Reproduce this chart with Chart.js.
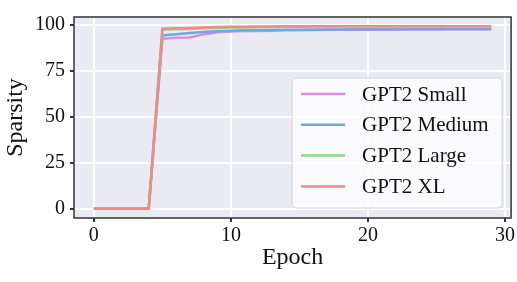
<!DOCTYPE html>
<html>
<head>
<meta charset="utf-8">
<script src="https://cdn.jsdelivr.net/npm/chart.js@4/dist/chart.umd.min.js"></script>
<style>
  html, body { margin: 0; padding: 0; background: #ffffff; }
  #wrap { width: 517px; height: 282px; }
</style>
</head>
<body>
<div id="wrap"><canvas id="sparsityChart" width="517" height="282"></canvas></div>
<script>
// Epochs on the x axis
const epochs = [0, 1, 2, 3, 4, 5, 6, 7, 8, 9, 10, 11, 12, 13, 14, 15, 16, 17, 18, 19, 20, 21, 22, 23, 24, 25, 26, 27, 28, 29];

// Sparsity per model
const gpt2Small = [0, 0, 0, 0, 0, 92.6, 93.2, 93.3, 95.0, 96.2, 96.6, 96.8, 96.9, 97.0, 97.2, 97.3, 97.4, 97.5, 97.5, 97.6, 97.6, 97.6, 97.7, 97.7, 97.7, 97.7, 97.8, 97.8, 97.8, 97.8];
const gpt2Medium = [0, 0, 0, 0, 0, 94.4, 95.1, 95.7, 96.3, 96.7, 97.0, 97.2, 97.3, 97.4, 97.5, 97.6, 97.6, 97.7, 97.7, 97.8, 97.8, 97.8, 97.8, 97.9, 97.9, 97.9, 97.9, 97.9, 97.9, 97.9];
const gpt2Large = [0, 0, 0, 0, 0, 97.5, 97.8, 98.0, 98.3, 98.5, 98.7, 98.8, 98.9, 99.0, 99.1, 99.2, 99.3, 99.3, 99.4, 99.4, 99.4, 99.4, 99.4, 99.4, 99.4, 99.4, 99.4, 99.4, 99.4, 99.4];
const gpt2XL = [0, 0, 0, 0, 0, 98.1, 98.3, 98.5, 98.8, 99.0, 99.1, 99.2, 99.3, 99.3, 99.4, 99.4, 99.5, 99.5, 99.5, 99.5, 99.5, 99.5, 99.5, 99.5, 99.5, 99.5, 99.5, 99.5, 99.5, 99.5];

const seriesNames = ["GPT2 Small", "GPT2 Medium", "GPT2 Large", "GPT2 XL"];
const seriesColors = ["#d88ddf", "#6fa7e6", "#8ed78a", "#f08a87"];

const xTicks = [0, 10, 20, 30];
const yTicks = [0, 25, 50, 75, 100];

const FONT = "'Liberation Serif', 'Times New Roman', serif";

function toPoints(values) {
    return values.map((v, i) => ({ x: epochs[i], y: v }));
}

// Background of the plot area, seaborn style
const backgroundPlugin = {
    id: "plotBackground",
    beforeDraw(chart) {
        const { ctx, chartArea: a } = chart;
        ctx.save();
        ctx.fillStyle = "#eaeaf2";
        ctx.fillRect(a.left, a.top, a.right - a.left, a.bottom - a.top);
        ctx.restore();
    }
};

// Frame and an in-plot legend, drawn on top
const framePlugin = {
    id: "frameAndLegend",
    afterDraw(chart) {
        const { ctx, chartArea: a } = chart;
        ctx.save();
        ctx.strokeStyle = "#333333";
        ctx.lineWidth = 1.5;
        ctx.strokeRect(a.left, a.top, a.right - a.left, a.bottom - a.top);

        // legend box
        const boxW = 210, boxH = 130;
        const bx = a.right - 9 - boxW;
        const by = a.bottom - 10 - boxH;
        const r = 4;
        ctx.beginPath();
        ctx.moveTo(bx + r, by);
        ctx.arcTo(bx + boxW, by, bx + boxW, by + boxH, r);
        ctx.arcTo(bx + boxW, by + boxH, bx, by + boxH, r);
        ctx.arcTo(bx, by + boxH, bx, by, r);
        ctx.arcTo(bx, by, bx + boxW, by, r);
        ctx.closePath();
        ctx.fillStyle = "rgba(255,255,255,0.8)";
        ctx.fill();
        ctx.strokeStyle = "#d6d6dc";
        ctx.lineWidth = 1;
        ctx.stroke();

        ctx.font = "21px " + FONT;
        ctx.textBaseline = "middle";
        ctx.textAlign = "left";
        chart.data.datasets.forEach((ds, i) => {
            const rowY = by + 16 + i * 30.8;
            ctx.strokeStyle = ds.borderColor;
            ctx.lineWidth = 2.5;
            ctx.beginPath();
            ctx.moveTo(bx + 9, rowY);
            ctx.lineTo(bx + 53, rowY);
            ctx.stroke();
            ctx.fillStyle = "#111111";
            ctx.fillText(ds.label, bx + 70, rowY + 1);
        });
        ctx.restore();
    }
};

// later series drawn on top (XL topmost), so give them a lower order
const datasets = [gpt2Small, gpt2Medium, gpt2Large, gpt2XL].map((values, i) => ({
    label: seriesNames[i],
    data: toPoints(values),
    borderColor: seriesColors[i],
    backgroundColor: seriesColors[i],
    borderWidth: 2.5,
    pointRadius: 0,
    tension: 0,
    fill: false,
    order: seriesNames.length - i
}));

new Chart(document.getElementById("sparsityChart"), {
    type: "line",
    data: { datasets: datasets },
    options: {
        responsive: false,
        animation: false,
        layout: { padding: { top: 1, right: 5, left: 0, bottom: 0 } },
        scales: {
            x: {
                type: "linear",
                min: -1.45,
                max: 30.45,
                afterBuildTicks: scale => { scale.ticks = xTicks.map(v => ({ value: v })); },
                afterFit: scale => { scale.height = 64; },
                grid: { color: "#ffffff", lineWidth: 2, tickColor: "#333333", tickLength: 4, drawTicks: true },
                border: { display: false },
                ticks: { color: "#111111", font: { family: FONT, size: 20 }, padding: 2, maxRotation: 0 },
                title: { display: true, text: "Epoch", color: "#111111", font: { family: FONT, size: 24 }, padding: { top: 0, bottom: 10 } }
            },
            y: {
                min: -4.975,
                max: 104.475,
                afterBuildTicks: scale => { scale.ticks = yTicks.map(v => ({ value: v })); },
                afterFit: scale => { scale.width = 74; },
                grid: { color: "#ffffff", lineWidth: 2, tickColor: "#333333", tickLength: 4, drawTicks: true },
                border: { display: false },
                ticks: { color: "#111111", font: { family: FONT, size: 20 }, padding: 5 },
                title: { display: true, text: "Sparsity", color: "#111111", font: { family: FONT, size: 24 }, padding: { top: 1, bottom: 0 } }
            }
        },
        plugins: {
            legend: { display: false },
            tooltip: { enabled: false }
        }
    },
    plugins: [backgroundPlugin, framePlugin]
});
</script>
</body>
</html>
